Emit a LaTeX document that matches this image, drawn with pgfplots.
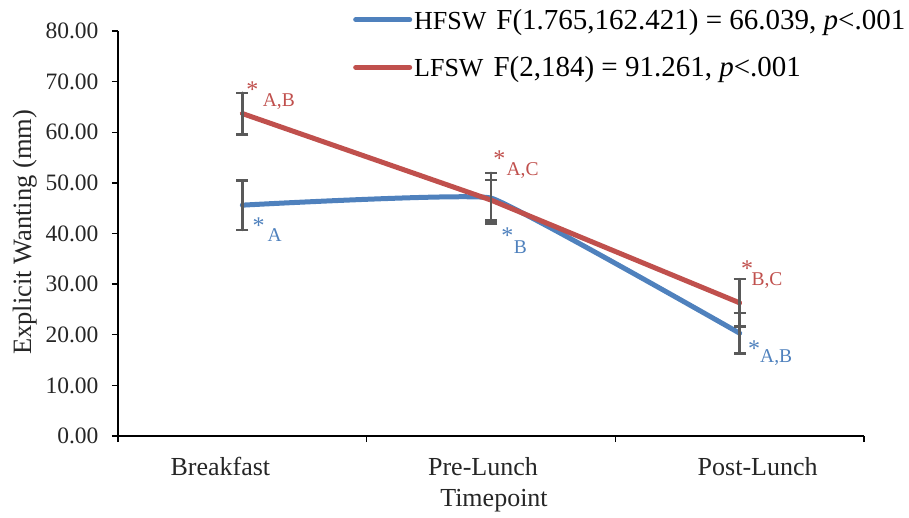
\documentclass[border=0pt]{standalone}
\usepackage{fontspec}
\setmainfont{Liberation Serif}
\usepackage{pgfplots}
\pgfplotsset{compat=1.18}
\definecolor{hblue}{HTML}{4F81BD}
\definecolor{lred}{HTML}{C0504D}
\definecolor{ebar}{HTML}{595959}
\begin{document}
\begin{tikzpicture}
\useasboundingbox (-118pt,-81pt) rectangle (791pt,436pt);
\begin{axis}[
  at={(0pt,0pt)}, anchor=south west,
  scale only axis, width=746pt, height=405pt,
  xmin=-0.5, xmax=2.5, ymin=0, ymax=80,
  axis lines*=left,
  axis line style={line width=1.3pt, black},
  xtick={0,1,2},
  xticklabels={\hspace*{-44pt}Breakfast,\hspace*{-16pt}Pre-Lunch,\hspace*{36pt}Post-Lunch},
  minor xtick={-0.5,0.5,1.5,2.5},
  major x tick style={draw=none},
  minor x tick style={line width=1.3pt, black},
  ytick={0,10,...,80},
  major y tick style={line width=1.3pt, black},
  tick align=outside,
  major tick length=6pt, minor tick length=6pt,
  yticklabel style={font=\fontsize{23.5}{28}\selectfont, text=black!85, xshift=-10pt, /pgf/number format/.cd, fixed, fixed zerofill, precision=2, assume math mode=true},
  xticklabel style={font=\fontsize{26}{30}\selectfont, text=black!85, yshift=-12pt},
  ylabel={Explicit Wanting (mm)},
  ylabel style={font=\fontsize{26.5}{30}\selectfont, text=black!85, at={(axis description cs:-0.125,0.503)}, anchor=center},
  xlabel={Timepoint},
  xlabel style={font=\fontsize{26}{30}\selectfont, text=black!85, at={(axis description cs:0.504,-0.16)}, anchor=center},
  clip=false,
  legend style={at={(axis description cs:0.315,1.06)}, anchor=north west, draw=none, fill=none, inner sep=0pt, row sep=22pt, column sep=0pt, cells={anchor=west}},
  legend image code/.code={\draw[#1, line width=5pt, line cap=round] (0pt,0pt) -- (54pt,0pt);},
  every axis plot/.append style={line cap=round, line join=round},
  error bars/error bar style={ebar, line width=2.5pt},
  error bars/error mark options={ebar, line width=2.5pt, rotate=90, mark size=6pt},
]
\addplot[hblue, line width=5pt, smooth, tension=0.15,
  error bars/.cd, y dir=both, y explicit]
  coordinates {(0,45.6) +- (0,4.9) (1,47.0) +- (0,5.0) (2,20.3) +- (0,4.0)};
\addlegendentry{{\fontsize{26}{30}\selectfont HFSW}\hspace{10pt}\fontsize{29}{34}\selectfont F(1.765,162.421) = 66.039, \textit{p}<.001}
\addplot[lred, line width=5pt,
  error bars/.cd, y dir=both, y explicit]
  coordinates {(0,63.7) +- (0,4.1) (1,46.6) +- (0,4.0) (2,26.3) +- (0,4.7)};
\addlegendentry{{\fontsize{26}{30}\selectfont LFSW}\hspace{10pt}\fontsize{29}{34}\selectfont F(2,184) = 91.261, \textit{p}<.001}
% annotations
\tikzset{ast/.style={inner sep=0pt, anchor=center, yshift=-4pt, font=\fontsize{24}{24}\selectfont},
         lab/.style={inner sep=0pt, anchor=center, font=\fontsize{19.5}{20}\selectfont}}
\node[ast, text=lred] at (axis cs:0.04,69.3) {*};
\node[lab, text=lred] at (axis cs:0.147,66.0) {A,B};
\node[ast, text=hblue] at (axis cs:0.066,42.3) {*};
\node[lab, text=hblue] at (axis cs:0.13,39.7) {A};
\node[ast, text=lred] at (axis cs:1.034,55.5) {*};
\node[lab, text=lred] at (axis cs:1.127,52.5) {A,C};
\node[ast, text=hblue] at (axis cs:1.066,40.3) {*};
\node[lab, text=hblue] at (axis cs:1.118,37.3) {B};
\node[ast, text=lred] at (axis cs:2.03,33.8) {*};
\node[lab, text=lred] at (axis cs:2.11,30.8) {B,C};
\node[ast, text=hblue] at (axis cs:2.058,18.0) {*};
\node[lab, text=hblue] at (axis cs:2.147,15.4) {A,B};
\end{axis}
\end{tikzpicture}
\end{document}
